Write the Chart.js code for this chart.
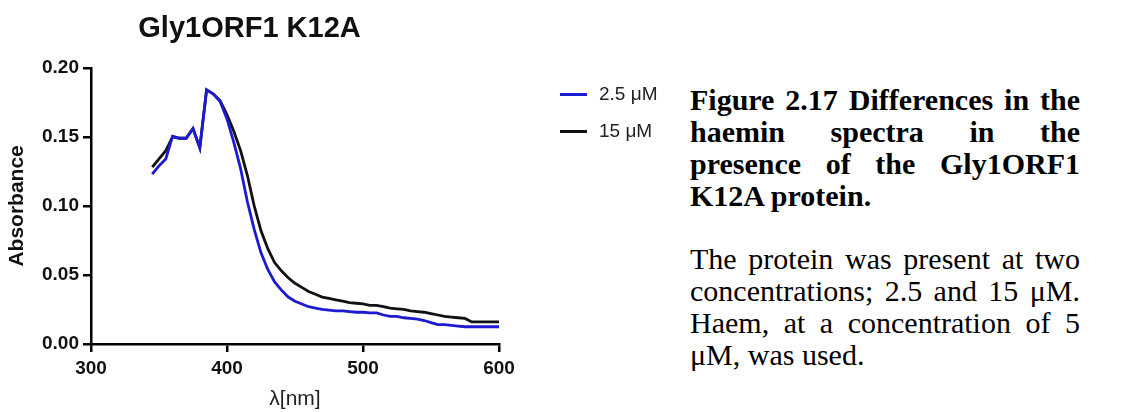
<!DOCTYPE html>
<html lang="en">
<head>
  <meta charset="UTF-8" />
  <title>Gly1ORF1 K12A</title>
  <script src="https://cdn.jsdelivr.net/npm/chart.js"></script>
  <style>
    body {
      margin: 0;
      background: #fff;
      width: 1126px;
      height: 412px;
      position: relative;
      overflow: hidden;
    }
    #plot {
      position: absolute;
      left: 0;
      top: 0;
    }
    .legend {
      position: absolute;
      left: 560px;
      font-family: "Liberation Sans", Arial, sans-serif;
      font-size: 19px;
      color: #222;
      line-height: 20px;
    }
    .legend span.swatch {
      display: inline-block;
      width: 27px;
      height: 3px;
      vertical-align: middle;
      margin-right: 12px;
    }
    .caption {
      position: absolute;
      left: 690px;
      top: 84px;
      width: 390px;
      font-family: "Liberation Serif", "Times New Roman", serif;
      font-size: 30px;
      line-height: 32px;
      color: #000;
      text-align: justify;
    }
    .caption p { margin: 0; }
    .caption .head { font-weight: bold; margin-bottom: 31px; }
  </style>
</head>
<body>
  <canvas id="plot" width="590" height="412"></canvas>

  <div class="legend" style="top:84px"><span class="swatch" style="background:#1b1bd1"></span>2.5 μM</div>
  <div class="legend" style="top:121px"><span class="swatch" style="background:#111"></span>15 μM</div>

  <div class="caption">
    <p class="head">Figure 2.17 Differences in the haemin spectra in the presence of the Gly1ORF1 K12A protein.</p>
    <p>The protein was present at two concentrations; 2.5 and 15 μM. Haem, at a concentration of 5 μM, was used.</p>
  </div>

  <script>
    // wavelength (nm), one reading every 5 nm
    const wavelengths = [345, 350, 355, 360, 365, 370, 375, 380, 385, 390, 395, 400,
      405, 410, 415, 420, 425, 430, 435, 440, 445, 450, 455, 460, 465, 470, 475, 480,
      485, 490, 495, 500, 505, 510, 515, 520, 525, 530, 535, 540, 545, 550, 555, 560,
      565, 570, 575, 580, 585, 590, 595, 600];

    const abs2_5uM = [0.123, 0.129, 0.134, 0.1505, 0.149, 0.149, 0.156, 0.142, 0.184, 0.181, 0.1755, 0.163,
      0.146, 0.127, 0.103, 0.083, 0.066, 0.054, 0.045, 0.039, 0.034, 0.031, 0.029, 0.027, 0.026, 0.025, 0.0245, 0.024,
      0.024, 0.0235, 0.023, 0.023, 0.0225, 0.0225, 0.021, 0.020, 0.020, 0.019, 0.0185, 0.018, 0.017, 0.0155, 0.014, 0.014,
      0.0135, 0.013, 0.0125, 0.0125, 0.0125, 0.0125, 0.0125, 0.0125];

    const abs15uM = [0.128, 0.134, 0.140, 0.150, 0.149, 0.149, 0.156, 0.142, 0.184, 0.181, 0.176, 0.166,
      0.154, 0.140, 0.122, 0.100, 0.082, 0.069, 0.059, 0.053, 0.048, 0.044, 0.041, 0.038, 0.036, 0.034, 0.033, 0.032,
      0.031, 0.030, 0.0295, 0.029, 0.028, 0.028, 0.027, 0.026, 0.0255, 0.025, 0.024, 0.0235, 0.023, 0.022, 0.021, 0.020,
      0.0195, 0.019, 0.0185, 0.016, 0.016, 0.016, 0.016, 0.016];

    const xTicks = [300, 400, 500, 600];
    const yTicks = [0.00, 0.05, 0.10, 0.15, 0.20];

    const toPoints = ys => wavelengths.map((w, i) => ({ x: w, y: ys[i] }));

    const sans = "'Liberation Sans', Arial, sans-serif";

    new Chart(document.getElementById("plot"), {
      type: "line",
      data: {
        datasets: [
          { label: "2.5 μM", data: toPoints(abs2_5uM), borderColor: "#1b1bd1", borderWidth: 2.8, pointRadius: 0, tension: 0, clip: false },
          { label: "15 μM", data: toPoints(abs15uM), borderColor: "#111", borderWidth: 2.8, pointRadius: 0, tension: 0, clip: false }
        ]
      },
      options: {
        responsive: false,
        animation: false,
        layout: { padding: { top: 0, right: 91, bottom: 0, left: 0 } },
        plugins: {
          legend: { display: false },
          tooltip: { enabled: false },
          title: {
            display: true,
            text: "Gly1ORF1 K12A",
            color: "#111",
            font: { family: sans, size: 29, weight: "bold" },
            padding: { top: 12, bottom: 21 }
          }
        },
        scales: {
          x: {
            type: "linear",
            min: xTicks[0],
            max: xTicks[xTicks.length - 1],
            afterFit: s => { s.height = 68; },
            afterBuildTicks: s => { s.ticks = xTicks.map(v => ({ value: v })); },
            grid: { drawOnChartArea: false, color: "#000", lineWidth: 2.5, tickLength: 8 },
            border: { color: "#000", width: 2.5 },
            ticks: { color: "#111", padding: 5, maxRotation: 0, font: { family: sans, size: 19, weight: "bold" } },
            title: { display: true, text: "λ[nm]", color: "#222", padding: { top: 0, bottom: 0 }, font: { family: sans, size: 21 } }
          },
          y: {
            min: yTicks[0],
            max: yTicks[yTicks.length - 1],
            afterFit: s => { s.width = 91; },
            afterBuildTicks: s => { s.ticks = yTicks.map(v => ({ value: v })); },
            grid: { drawOnChartArea: false, color: "#000", lineWidth: 2.5, tickLength: 8 },
            border: { color: "#000", width: 2.5 },
            ticks: { color: "#111", padding: 4, callback: v => v.toFixed(2), font: { family: sans, size: 19, weight: "bold" } },
            title: { display: true, text: "Absorbance", color: "#111", padding: { top: 5, bottom: 0 }, font: { family: sans, size: 21, weight: "bold" } }
          }
        }
      }
    });
  </script>
</body>
</html>
